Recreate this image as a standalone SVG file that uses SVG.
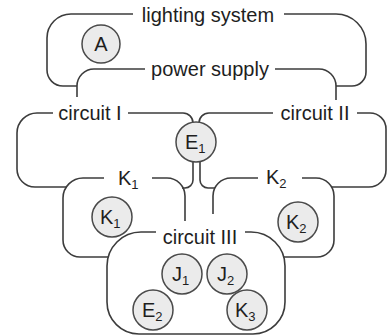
<svg xmlns="http://www.w3.org/2000/svg" width="390" height="336" viewBox="0 0 390 336">
<style>
.c{fill:none;stroke:#3c3c3c;stroke-width:1.6;stroke-linecap:butt}
.n{fill:#ebebeb;stroke:#4a4a4a;stroke-width:1.5}
text{font-family:"Liberation Sans",Arial,sans-serif;font-size:20px;fill:#1e1e1e}
.m{text-anchor:middle}
.s{font-size:13px}
</style>
<rect width="390" height="336" fill="#fff"/>
<g id="connectors">
<path class="c" d="M133,14 H71 A24,24 0 0 0 47,38 V70 A16,16 0 0 0 63,86 H77"/>
<path class="c" d="M284,14 H336 A30,30 0 0 1 366,44 V72 A14,14 0 0 1 352,86 H336"/>
<path class="c" d="M145,69 H94 A17,17 0 0 0 77,86 V97"/>
<path class="c" d="M275,69 H319 A17,17 0 0 1 336,86 V100"/>
<path class="c" d="M53,113 H37 A20,20 0 0 0 17,133 V169 A18,18 0 0 0 35,187 H67"/>
<path class="c" d="M128,113 H183 A10,10 0 0 1 193,123"/>
<path class="c" d="M273,113 H209 A10,10 0 0 0 199,123"/>
<path class="c" d="M357,113 H370 A16,16 0 0 1 386,129 V170 A17,17 0 0 1 369,187 H332"/>
<path class="c" d="M193,162 V180 A8,8 0 0 1 185,188 H182"/>
<path class="c" d="M200,162 V180 A8,8 0 0 0 208,188 H215"/>
<path class="c" d="M104,178 H83 A20,20 0 0 0 63,198 V240 A17,17 0 0 0 80,257 H108"/>
<path class="c" d="M152,178 H167 A18,18 0 0 1 185,196 V221"/>
<path class="c" d="M258,178 H231 A18,18 0 0 0 213,196 V214"/>
<path class="c" d="M302,178 H316 A18,18 0 0 1 334,196 V240 A17,17 0 0 1 317,257 H284"/>
<path class="c" d="M156,232 H141 A34,34 0 0 0 107,266 V302 A32,32 0 0 0 139,334 H253 A32,32 0 0 0 285,302 V266 A34,34 0 0 0 251,232 H245"/>
</g>
<g id="lighting-system"><text class="m" x="208" y="22">lighting system</text></g>
<g id="power-supply"><text class="m" x="210" y="76">power supply</text></g>
<g id="circuit-I"><text class="m" x="90" y="120">circuit I</text></g>
<g id="circuit-II"><text class="m" x="315" y="120">circuit II</text></g>
<g id="circuit-III"><text class="m" x="200" y="244">circuit III</text></g>
<g id="K1-label"><text x="118" y="185">K<tspan class="s" dy="4">1</tspan></text></g>
<g id="K2-label"><text x="266" y="184">K<tspan class="s" dy="4">2</tspan></text></g>
<g id="A"><circle class="n" cx="101" cy="44" r="19"/><text class="m" x="101" y="51">A</text></g>
<g id="E1"><circle class="n" cx="196" cy="142" r="20"/><text x="185" y="149">E<tspan class="s" dy="4">1</tspan></text></g>
<g id="K1"><circle class="n" cx="112" cy="217" r="20"/><text x="100" y="224">K<tspan class="s" dy="4">1</tspan></text></g>
<g id="K2"><circle class="n" cx="298" cy="222" r="20"/><text x="286" y="229">K<tspan class="s" dy="4">2</tspan></text></g>
<g id="J1"><circle class="n" cx="182" cy="274" r="20"/><text x="172" y="281">J<tspan class="s" dy="4">1</tspan></text></g>
<g id="J2"><circle class="n" cx="227" cy="274" r="20"/><text x="217" y="281">J<tspan class="s" dy="4">2</tspan></text></g>
<g id="E2"><circle class="n" cx="153" cy="310" r="20"/><text x="142" y="317">E<tspan class="s" dy="4">2</tspan></text></g>
<g id="K3"><circle class="n" cx="247" cy="310" r="20"/><text x="235" y="317">K<tspan class="s" dy="4">3</tspan></text></g>
</svg>
